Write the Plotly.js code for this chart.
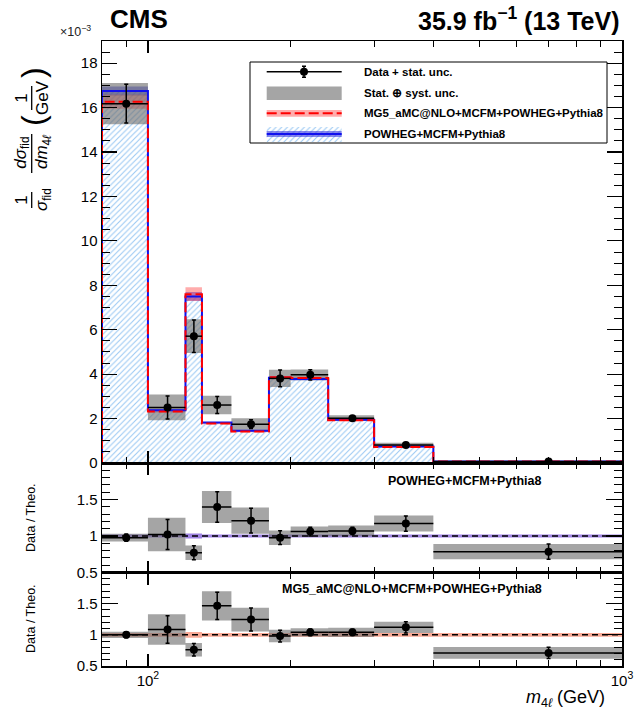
<!DOCTYPE html>
<html><head><meta charset="utf-8">
<script src="https://cdn.plot.ly/plotly-3.0.1.min.js"></script>
<style>html,body{margin:0;padding:0;background:#fff}#plot{width:641px;height:712px}</style>
</head><body><div id="plot"></div>
<script>
// ---------- data (main panel in units of 1e-3 / GeV) ----------
const binEdges = [80, 100, 120, 130, 150, 180, 200, 240, 300, 400, 1000];
const dataVal  = [16.18, 2.50, 5.71, 2.61, 1.75, 3.81, 3.97, 2.02, 0.81, 0.065];
const dataStat = [0.87, 0.52, 0.73, 0.38, 0.20, 0.38, 0.23, 0.10, 0.07, 0.010];
const dataTot  = [0.93, 0.58, 0.76, 0.42, 0.27, 0.39, 0.24, 0.13, 0.10, 0.015];
const mgVal    = [16.27, 2.32, 7.60, 1.78, 1.42, 3.86, 3.83, 1.93, 0.72, 0.070];
const mgErr    = [0.32, 0.05, 0.31, 0.04, 0.03, 0.06, 0.06, 0.03, 0.015, 0.002];
const powVal   = [16.75, 2.38, 7.50, 1.82, 1.45, 3.84, 3.78, 1.95, 0.74, 0.070];
const powErr   = [0.20, 0.04, 0.20, 0.03, 0.03, 0.05, 0.05, 0.03, 0.010, 0.002];

// ratio panel 1 : Data / POWHEG+MCFM+Pythia8
const ratPow     = [0.977, 1.02, 0.77, 1.397, 1.21, 0.977, 1.06, 1.07, 1.17, 0.785];
const ratPowStat = [0.050, 0.205, 0.095, 0.21, 0.17, 0.095, 0.06, 0.05, 0.105, 0.105];
const ratPowTot  = [0.053, 0.23, 0.10, 0.22, 0.18, 0.10, 0.07, 0.075, 0.11, 0.105];
const powBand    = [0.02, 0.02, 0.035, 0.02, 0.02, 0.02, 0.02, 0.02, 0.02, 0.02];
// ratio panel 2 : Data / MG5_aMC@NLO+MCFM+POWHEG+Pythia8
const ratMg      = [1.00, 1.085, 0.76, 1.465, 1.245, 0.98, 1.04, 1.04, 1.12, 0.71];
const ratMgStat  = [0.045, 0.22, 0.10, 0.22, 0.185, 0.095, 0.055, 0.05, 0.09, 0.09];
const ratMgTot   = [0.050, 0.245, 0.107, 0.235, 0.19, 0.10, 0.065, 0.075, 0.09, 0.093];
const mgBand     = [0.03, 0.03, 0.045, 0.03, 0.03, 0.03, 0.03, 0.03, 0.03, 0.03];
const ratioRef   = 1;

const xMajorTicks = [100, 1000];
const xMajorText  = ['10<sup>2</sup>', '10<sup>3</sup>'];
const xMinorTicks = [90, 200, 300, 400, 500, 600, 700, 800, 900];
const yMainTicks  = [0, 2, 4, 6, 8, 10, 12, 14, 16, 18];
const yRatioTicks = [0.5, 1, 1.5];
const yRatioText  = ['0.5', '1', '1.5'];

// ---------- helpers ----------
const FONT = 'Liberation Sans, Arial, Helvetica, sans-serif';
const L = 102, R = 622, T = 41, B = 666;
const px = x => (x - L) / (R - L);
const py = y => (B - y) / (B - T);
const nb = binEdges.length - 1;
const lo = binEdges.slice(0, nb), hi = binEdges.slice(1);
const centers = lo.map((l, i) => (l + hi[i]) / 2);
const exPlus = centers.map((c, i) => hi[i] - c);
const exMinus = centers.map((c, i) => c - lo[i]);

function stepXY(v) {
  const x = [binEdges[0]], y = [0];
  for (let i = 0; i < v.length; i++) { x.push(binEdges[i]); y.push(v[i]); }
  x.push(binEdges[v.length]); y.push(v[v.length - 1]);
  x.push(binEdges[v.length]); y.push(0);
  return {x, y};
}
function boxes(c, e) {
  const x = [], y = [];
  for (let i = 0; i < nb; i++) {
    const cc = Array.isArray(c) ? c[i] : c;
    x.push(lo[i], hi[i], hi[i], lo[i], lo[i], null);
    y.push(cc - e[i], cc - e[i], cc + e[i], cc + e[i], cc - e[i], null);
  }
  return {x, y};
}
function fillTrace(b, color, xa, ya) {
  return {x: b.x, y: b.y, xaxis: xa, yaxis: ya, mode: 'lines', fill: 'toself',
    fillcolor: color, line: {width: 0, color: 'rgba(0,0,0,0)'}, hoverinfo: 'skip', showlegend: false};
}
function dataTrace(y, err, xa, ya) {
  return {x: centers, y: y, xaxis: xa, yaxis: ya, mode: 'markers', showlegend: false,
    marker: {color: 'black', size: 8},
    error_y: {type: 'data', array: err, color: 'black', thickness: 1.5, width: 2},
    error_x: {type: 'data', array: exPlus, arrayminus: exMinus, color: 'black', thickness: 1.5, width: 0}};
}
const HATCH = {shape: '/', fgcolor: '#9cc9f3', bgcolor: 'rgba(255,255,255,0)', size: 4, solidity: 0.28};

const traces = [];
// main panel
const powStep = stepXY(powVal), mgStep = stepXY(mgVal);
traces.push({x: powStep.x, y: powStep.y, xaxis: 'x', yaxis: 'y', mode: 'lines',
  line: {shape: 'hv', width: 0, color: 'rgba(0,0,0,0)'}, fill: 'tozeroy', fillcolor: 'rgba(0,0,0,0)',
  fillpattern: HATCH, hoverinfo: 'skip', showlegend: false});
traces.push(fillTrace(boxes(powVal, powErr), 'rgba(40,40,220,0.55)', 'x', 'y'));
traces.push(fillTrace(boxes(mgVal, mgErr), 'rgba(255,70,70,0.45)', 'x', 'y'));
traces.push(fillTrace(boxes(dataVal, dataTot), 'rgba(105,105,105,0.6)', 'x', 'y'));
traces.push({x: powStep.x, y: powStep.y, xaxis: 'x', yaxis: 'y', mode: 'lines',
  line: {shape: 'hv', width: 2, color: '#1010ee'}, showlegend: false});
traces.push({x: mgStep.x, y: mgStep.y, xaxis: 'x', yaxis: 'y', mode: 'lines',
  line: {shape: 'hv', width: 2, color: '#ff0000', dash: '10px,4px'}, showlegend: false});
traces.push(dataTrace(dataVal, dataStat, 'x', 'y'));
// ratio 1
traces.push(fillTrace(boxes(ratioRef, powBand), 'rgba(125,90,215,0.75)', 'x2', 'y2'));
traces.push(fillTrace(boxes(ratPow, ratPowTot), 'rgba(105,105,105,0.6)', 'x2', 'y2'));
traces.push(dataTrace(ratPow, ratPowStat, 'x2', 'y2'));
// ratio 2
traces.push(fillTrace(boxes(ratioRef, mgBand), 'rgba(245,140,115,0.75)', 'x3', 'y3'));
traces.push(fillTrace(boxes(ratMg, ratMgTot), 'rgba(105,105,105,0.6)', 'x3', 'y3'));
traces.push(dataTrace(ratMg, ratMgStat, 'x3', 'y3'));

// legend keys (drawn in a pixel-space overlay axis pair)
const LX0 = 266.7, LX1 = 341.7, LXM = 304;
function rectPx(x0, x1, y0, y1) { return {x: [x0, x1, x1, x0, x0], y: [y0, y0, y1, y1, y0]}; }
traces.push({x: [LX0, LX1], y: [71.7, 71.7], xaxis: 'x4', yaxis: 'y4', mode: 'lines', line: {color: 'black', width: 1.5}, showlegend: false, hoverinfo: 'skip'});
traces.push({x: [LXM], y: [71.7], xaxis: 'x4', yaxis: 'y4', mode: 'markers', marker: {color: 'black', size: 8},
  error_y: {type: 'constant', value: 5.5, color: 'black', thickness: 1.5, width: 2}, showlegend: false, hoverinfo: 'skip'});
let r = rectPx(LX0, LX1, 86.5, 100);
traces.push(fillTrace(r, 'rgba(105,105,105,0.6)', 'x4', 'y4'));
r = rectPx(LX0, LX1, 110, 116.7);
traces.push(fillTrace(r, 'rgba(255,70,70,0.45)', 'x4', 'y4'));
traces.push({x: [LX0, LX1], y: [113.3, 113.3], xaxis: 'x4', yaxis: 'y4', mode: 'lines', line: {color: '#ff0000', width: 2, dash: '10px,4px'}, showlegend: false, hoverinfo: 'skip'});
r = rectPx(LX0, LX1, 127, 142);
traces.push({x: r.x, y: r.y, xaxis: 'x4', yaxis: 'y4', mode: 'lines', fill: 'toself', fillcolor: 'rgba(0,0,0,0)',
  fillpattern: HATCH, line: {width: 0, color: 'rgba(0,0,0,0)'}, showlegend: false, hoverinfo: 'skip'});
r = rectPx(LX0, LX1, 131, 137);
traces.push(fillTrace(r, 'rgba(40,40,220,0.55)', 'x4', 'y4'));
traces.push({x: [LX0, LX1], y: [134, 134], xaxis: 'x4', yaxis: 'y4', mode: 'lines', line: {color: '#1010ee', width: 2}, showlegend: false, hoverinfo: 'skip'});

// ---------- axes ----------
const xCommon = {type: 'log', range: [Math.log10(binEdges[0]), Math.log10(binEdges[nb])],
  showline: true, linecolor: 'black', linewidth: 1.5, mirror: 'allticks', ticks: 'inside',
  ticklen: 12, tickwidth: 1.2, tickcolor: 'black', tickvals: xMajorTicks, ticktext: xMajorText,
  showgrid: false, zeroline: false, fixedrange: true,
  minor: {tickvals: xMinorTicks, ticklen: 6, ticks: 'inside', tickcolor: 'black', tickwidth: 1},
  tickfont: {family: FONT, size: 15, color: 'black'}};
const yCommon = {showline: true, linecolor: 'black', linewidth: 1.5, mirror: 'allticks', ticks: 'inside',
  tickwidth: 1.2, tickcolor: 'black', showgrid: false, zeroline: false, fixedrange: true,
  tickfont: {family: FONT, size: 15, color: 'black'}};

const dMain = (B - 463) / (B - T), dR1 = (B - 572.5) / (B - T);

const annotations = [];
function ann(x, y, text, opts) {
  annotations.push(Object.assign({xref: 'paper', yref: 'paper', x: px(x), y: py(y), text: text,
    showarrow: false, xanchor: 'center', yanchor: 'middle',
    font: {family: FONT, size: 15, color: 'black'}}, opts || {}));
}
// header
ann(108, 19, '<b>CMS</b>', {xanchor: 'left', font: {family: FONT, size: 26, color: 'black'}});
ann(622, 19, '<b>35.9 fb<sup>−1</sup> (13 TeV)</b>', {xanchor: 'right', font: {family: FONT, size: 25, color: 'black'}});
ann(93, 31, '×10<sup>−3</sup>', {xanchor: 'right', font: {family: FONT, size: 12.5, color: '#222'}});
// legend texts
const legFont = {family: FONT, size: 11.5, color: 'black'};
ann(361.7, 71.7, '<b>Data + stat. unc.</b>', {xanchor: 'left', font: legFont});
ann(361.7, 93.3, '<b>Stat. ⊕ syst. unc.</b>', {xanchor: 'left', font: legFont});
ann(361.7, 113.3, '<b>MG5_aMC@NLO+MCFM+POWHEG+Pythia8</b>', {xanchor: 'left', font: legFont});
ann(361.7, 134, '<b>POWHEG+MCFM+Pythia8</b>', {xanchor: 'left', font: legFont});
// ratio panel labels
const rFont = {family: FONT, size: 12.5, color: 'black'};
ann(544, 481, '<b>POWHEG+MCFM+Pythia8</b>', {xanchor: 'right', font: rFont});
ann(544, 589, '<b>MG5_aMC@NLO+MCFM+POWHEG+Pythia8</b>', {xanchor: 'right', font: rFont});
ann(31, 518, 'Data / Theo.', {textangle: -90, font: {family: FONT, size: 12.5, color: 'black'}});
ann(31, 619, 'Data / Theo.', {textangle: -90, font: {family: FONT, size: 12.5, color: 'black'}});
// x title
ann(607, 698, '<i>m</i><sub>4<i>ℓ</i></sub> (GeV)', {xanchor: 'right', font: {family: FONT, size: 18, color: 'black'}});
// y title (stacked fractions, rotated)
const yt = {family: FONT, size: 17, color: 'black'};
ann(21.7, 200, '1', {textangle: -90, font: yt});
ann(43, 200, '<i>σ</i><sub>fid</sub>', {textangle: -90, font: yt});
ann(21.7, 153, '<i>dσ</i><sub>fid</sub>', {textangle: -90, font: yt});
ann(43, 152, '<i>dm</i><sub>4<i>ℓ</i></sub>', {textangle: -90, font: yt});
ann(33, 121, '(', {textangle: -90, font: {family: FONT, size: 32, color: 'black'}});
ann(21.7, 98, '1', {textangle: -90, font: yt});
ann(43, 98, 'GeV', {textangle: -90, font: yt});
ann(33, 73, ')', {textangle: -90, font: {family: FONT, size: 32, color: 'black'}});

const shapes = [
  {type: 'line', xref: 'paper', yref: 'paper', x0: px(31.7), x1: px(31.7), y0: py(192), y1: py(208), line: {color: 'black', width: 1.3}},
  {type: 'line', xref: 'paper', yref: 'paper', x0: px(31.7), x1: px(31.7), y0: py(134), y1: py(173), line: {color: 'black', width: 1.3}},
  {type: 'line', xref: 'paper', yref: 'paper', x0: px(31.7), x1: px(31.7), y0: py(86), y1: py(110), line: {color: 'black', width: 1.3}},
  {type: 'rect', xref: 'paper', yref: 'paper', x0: px(250), x1: px(607), y0: py(62), y1: py(143), line: {color: 'black', width: 1}, layer: 'above'},
  {type: 'line', xref: 'x2 domain', yref: 'y2', x0: 0, x1: 1, y0: ratioRef, y1: ratioRef, line: {color: 'black', width: 1.5, dash: '6px,4px'}, layer: 'above'},
  {type: 'line', xref: 'x3 domain', yref: 'y3', x0: 0, x1: 1, y0: ratioRef, y1: ratioRef, line: {color: 'black', width: 1.5, dash: '6px,4px'}, layer: 'above'}
];

const layout = {
  width: 641, height: 712,
  margin: {l: L, r: 641 - R, t: T, b: 712 - B, pad: 0},
  paper_bgcolor: 'white', plot_bgcolor: 'rgba(0,0,0,0)',
  showlegend: false,
  font: {family: FONT, color: 'black'},
  xaxis: Object.assign({}, xCommon, {anchor: 'y', showticklabels: false}),
  xaxis2: Object.assign({}, xCommon, {anchor: 'y2', showticklabels: false}),
  xaxis3: Object.assign({}, xCommon, {anchor: 'y3', showticklabels: true}),
  xaxis4: {domain: [0, 1], range: [L, R], visible: false, anchor: 'y4', fixedrange: true},
  yaxis: Object.assign({}, yCommon, {domain: [dMain, 1], range: [0, 19], anchor: 'x',
    tickvals: yMainTicks, ticklen: 15,
    minor: {tickmode: 'linear', tick0: 0, dtick: 0.5, ticklen: 8, ticks: 'inside', tickcolor: 'black', tickwidth: 1}}),
  yaxis2: Object.assign({}, yCommon, {domain: [dR1, dMain], range: [0.5, 2.0], anchor: 'x2',
    tickvals: yRatioTicks, ticktext: yRatioText, ticklen: 16,
    minor: {tickmode: 'linear', tick0: 0.5, dtick: 0.1, ticklen: 8, ticks: 'inside', tickcolor: 'black', tickwidth: 1}}),
  yaxis3: Object.assign({}, yCommon, {domain: [0, dR1], range: [0.5, 2.0], anchor: 'x3',
    tickvals: yRatioTicks, ticktext: yRatioText, ticklen: 16,
    minor: {tickmode: 'linear', tick0: 0.5, dtick: 0.1, ticklen: 8, ticks: 'inside', tickcolor: 'black', tickwidth: 1}}),
  yaxis4: {domain: [0, 1], range: [B, T], visible: false, anchor: 'x4', fixedrange: true},
  annotations: annotations,
  shapes: shapes
};

Plotly.newPlot('plot', traces, layout, {displayModeBar: false, staticPlot: true});
</script>
</body></html>
